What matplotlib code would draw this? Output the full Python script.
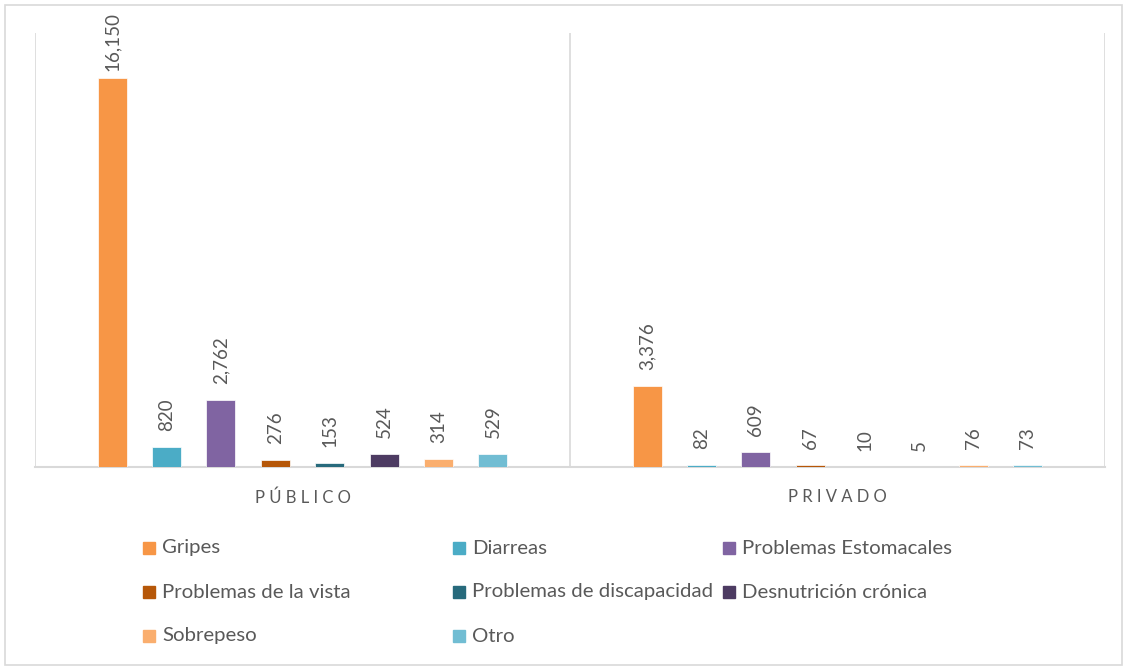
import numpy as np
import matplotlib.pyplot as plt
from matplotlib.patches import Rectangle

plt.rcParams['font.family'] = ['Lato', 'DejaVu Sans']

# data
sectores = ['PÚBLICO', 'PRIVADO']
enfermedades = ['Gripes', 'Diarreas', 'Problemas Estomacales', 'Problemas de la vista',
                'Problemas de discapacidad', 'Desnutrición crónica', 'Sobrepeso', 'Otro']
publico = [16150, 820, 2762, 276, 153, 524, 314, 529]
privado = [3376, 82, 609, 67, 10, 5, 76, 73]
colores = ['#F79646', '#4BACC6', '#8064A2', '#B65708', '#276A7C', '#4D3B62', '#FAAE6E', '#71BDD3']

valores = np.array([publico, privado])  # shape (sector, enfermedad)

fig = plt.figure(figsize=(11.28, 6.7), dpi=100)
ax = fig.add_axes([35 / 1128, 1 - 467 / 670, 1070 / 1128, 434 / 670])

x = np.arange(len(sectores))
n = len(enfermedades)
slot = 0.1017
width = 0.054
gris = '#595959'

for i, nombre in enumerate(enfermedades):
    pos = x + (i - (n - 1) / 2) * slot
    ax.bar(pos, valores[:, i], width=width, color=colores[i], edgecolor='white',
           linewidth=0.5, zorder=3)
    for xp, v in zip(pos, valores[:, i]):
        off = 7 if v == valores.max() else 16
        ax.annotate(f'{v:,}', (xp, v), xytext=(0, off), textcoords='offset pixels',
                    rotation=90, ha='center', va='bottom', fontsize=13.5, color=gris)

ax.set_xlim(-0.5, 1.5)
ax.set_ylim(0, 18000)
for xv in [-0.5, 0.5, 1.5]:
    ax.axvline(xv, color='#d9d9d9', linewidth=1.2, zorder=1)
for s in ['top', 'left', 'right']:
    ax.spines[s].set_visible(False)
ax.spines['bottom'].set_color('#d9d9d9')
ax.spines['bottom'].set_linewidth(1.5)
ax.set_yticks([])
ax.set_xticks(x)
ax.set_xticklabels([' '.join(s) for s in sectores], fontsize=12, color=gris)
ax.tick_params(axis='x', length=0, pad=16)

# legend, placed like the Excel one
col_x = [143, 453, 723]
row_y = [548, 592, 636]
for i, nombre in enumerate(enfermedades):
    cx = col_x[i % 3]
    cy = row_y[i // 3]
    fig.patches.append(Rectangle((cx / 1128, 1 - (cy + 6) / 670), 12 / 1128, 12 / 670,
                                 transform=fig.transFigure, color=colores[i]))
    fig.text((cx + 19) / 1128, 1 - cy / 670, nombre, fontsize=14.7, color=gris,
             ha='left', va='center')

# chart border
fig.patches.append(Rectangle((5 / 1128, 5 / 670), 1117 / 1128, 660 / 670,
                             transform=fig.transFigure, fill=False,
                             edgecolor='#d9d9d9', linewidth=1.2))

fig.savefig('out.png', dpi=100)
